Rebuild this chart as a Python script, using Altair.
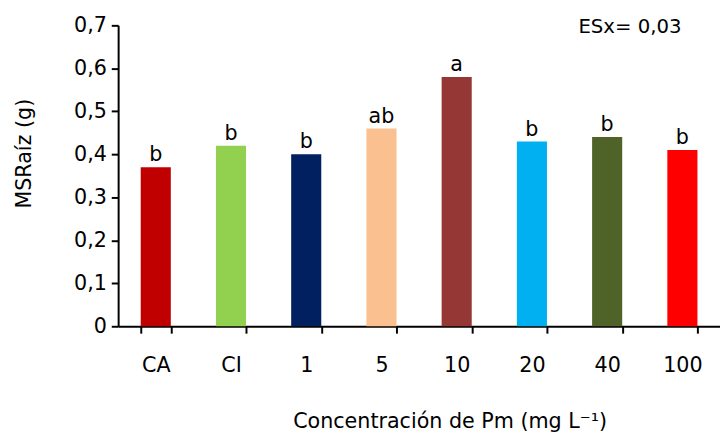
import altair as alt
import pandas as pd

categories = ["CA", "CI", "1", "5", "10", "20", "40", "100"]
values = [0.37, 0.42, 0.40, 0.46, 0.58, 0.43, 0.44, 0.41]
letters = ["b", "b", "b", "ab", "a", "b", "b", "b"]
colors = ["#C00000", "#92D050", "#002060", "#FAC090", "#953735", "#00B0F0", "#4F6228", "#FF0000"]
y_ticks = [0, 0.1, 0.2, 0.3, 0.4, 0.5, 0.6, 0.7]

df = pd.DataFrame({"cat": categories, "val": values, "lab": letters, "col": colors})

FONT = "DejaVu Sans"
FS = 21

x_enc = alt.X("cat:N", sort=categories,
              scale=alt.Scale(paddingInner=0.6, paddingOuter=0.3),
              axis=alt.Axis(title="Concentración de Pm (mg L⁻¹)", labelAngle=0,
                            tickBand="extent", tickSize=7, tickWidth=2, tickColor="black",
                            domainColor="black", domainWidth=2,
                            labelFont=FONT, labelFontSize=FS, labelColor="black",
                            labelPadding=22, titleFont=FONT, titleFontSize=FS,
                            titleFontWeight="normal", titleColor="black", titlePadding=36,
                            titleX=337))
y_enc = alt.Y("val:Q", scale=alt.Scale(domain=[0, 0.7]),
              axis=alt.Axis(title="MSRaíz (g)", values=y_ticks, grid=False,
                            labelExpr="datum.value == 0 ? '0' : replace(format(datum.value, '.1f'), '.', ',')",
                            tickSize=7, tickWidth=2, tickColor="black",
                            domainColor="black", domainWidth=2,
                            labelFont=FONT, labelFontSize=FS, labelColor="black", labelPadding=5,
                            titleFont=FONT, titleFontSize=FS, titleFontWeight="normal",
                            titleColor="black", titlePadding=40, titleY=130))

bars = alt.Chart(df).mark_bar().encode(
    x=x_enc, y=y_enc,
    color=alt.Color("col:N", scale=None),
)
text = alt.Chart(df).mark_text(baseline="bottom", dy=-2, font=FONT, fontSize=FS, color="black").encode(
    x=alt.X("cat:N", sort=categories), y="val:Q", text="lab:N"
)
es = alt.Chart(pd.DataFrame({"t": ["ESx= 0,03"]})).mark_text(
    font=FONT, fontSize=20, color="black", align="left", baseline="middle"
).encode(x=alt.value(468), y=alt.value(2), text="t:N")

chart = alt.layer(bars, text, es).properties(
    width=612, height=306,
    autosize=alt.AutoSizeParams(type="none"),
    padding={"left": 112, "top": 14, "right": 0, "bottom": 112},
).configure_view(stroke=None)

chart.save("out.html", embed_options={"renderer": "svg", "actions": False})
